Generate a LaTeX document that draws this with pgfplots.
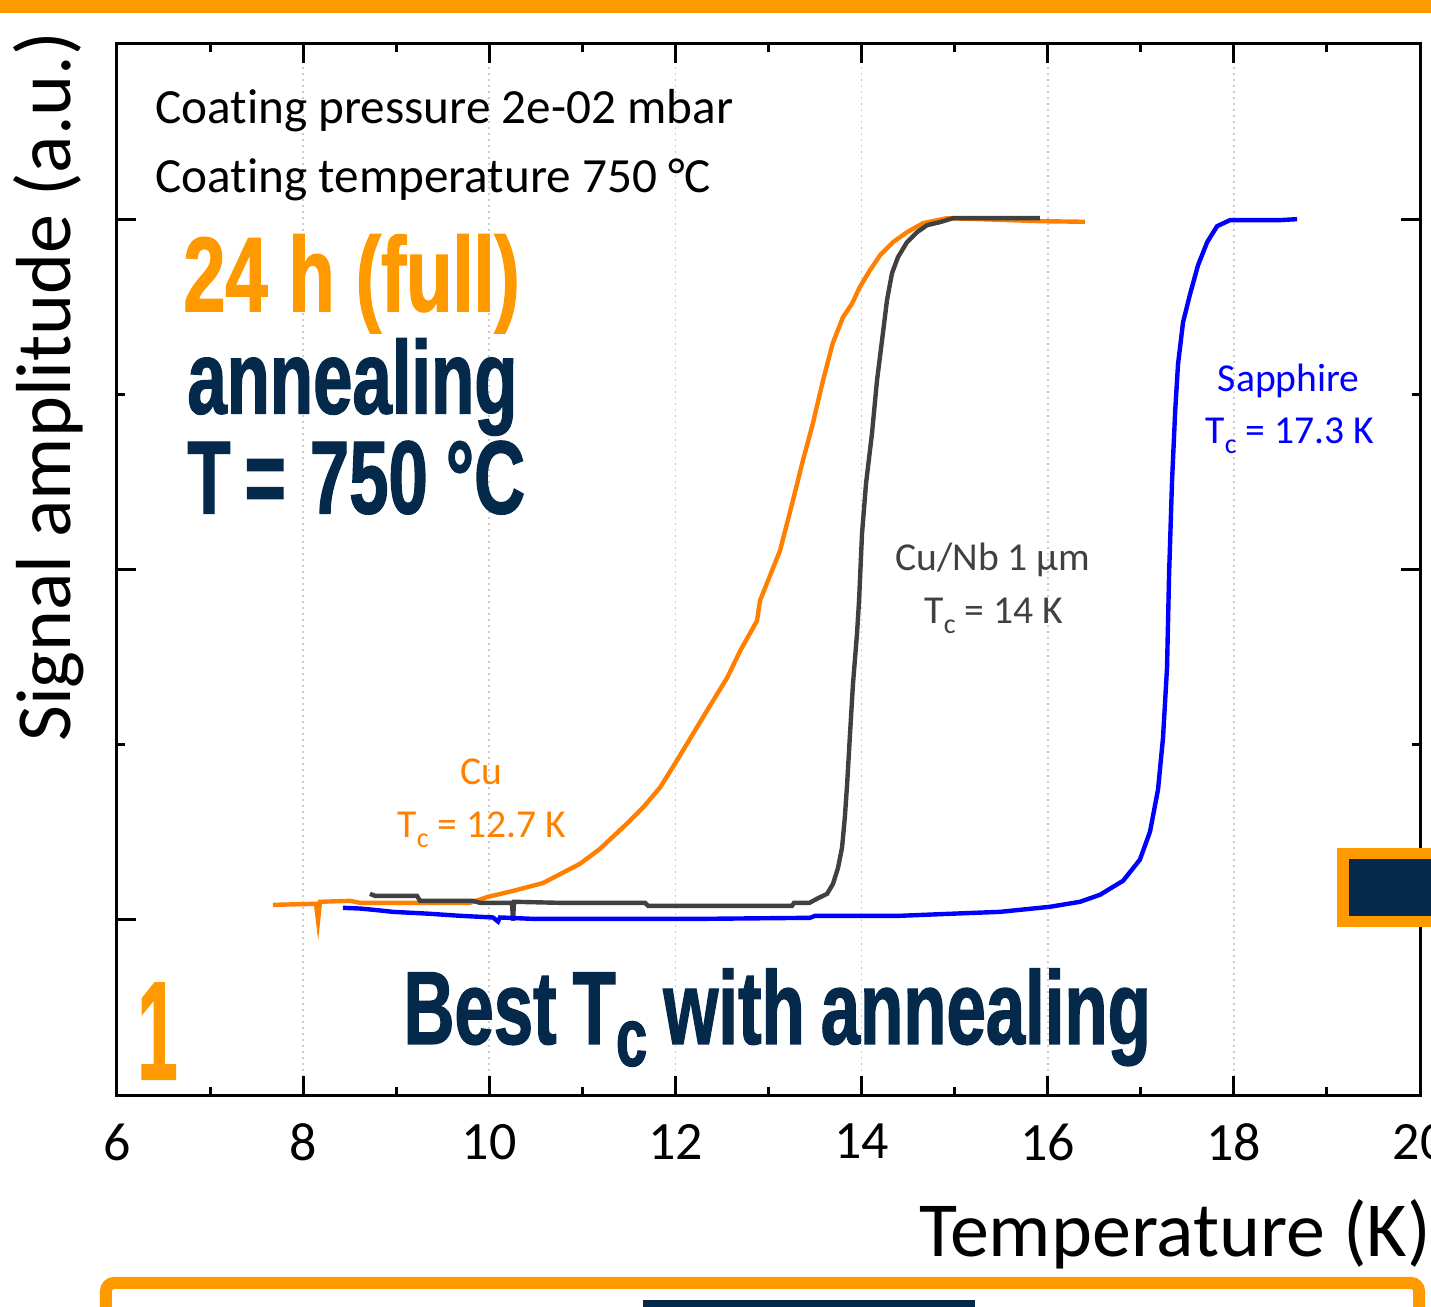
\documentclass[border=0pt]{standalone}
\usepackage{fontspec}
\setmainfont{Carlito}[Ligatures=NoCommon]
\newfontfamily\cond[FakeStretch=0.68, FakeBold=1.2]{Liberation Sans}
\usepackage{graphicx}
\usepackage{pgfplots}
\pgfplotsset{compat=1.18}

\definecolor{accent}{HTML}{FF9900}
\definecolor{cuorange}{HTML}{FF8000}
\definecolor{nbgray}{HTML}{404040}
\definecolor{navy}{HTML}{04294A}

% small lowered subscript c for the T_c labels
\newcommand\tc{T\raisebox{-5pt}{\fontsize{14}{14}\selectfont c}}

\begin{document}
\begin{tikzpicture}
\path[use as bounding box] (-58.5pt,-106pt) rectangle (657pt,547.5pt);
\clip (-58.5pt,-106pt) rectangle (657pt,547.5pt);
\begin{axis}[
  scale only axis,
  width=651.5pt, height=525.5pt,
  xmin=6, xmax=20, ymin=-0.2, ymax=1.0,
  xtick={6,8,...,20}, minor xtick={7,9,...,19},
  ytick={0,0.4,0.8}, minor ytick={0.2,0.6},
  yticklabels={},
  tick align=inside,
  major tick length=9.5pt, minor tick length=4pt,
  tick style={black, line width=1.5pt},
  axis line style={line width=1.5pt},
  xmajorgrids,
  major grid style={gray!40, line width=0.8pt, dash pattern=on 1pt off 2pt},
  /pgf/number format/assume math mode=true,
  xticklabel style={font=\fontsize{27}{27}\selectfont, yshift=-11pt},
  xlabel={Temperature (K)},
  ylabel={Signal amplitude (a.u.)},
  xlabel style={at={(rel axis cs:1.0137,-0.154)}, anchor=base east,
    font=\fontsize{39}{39}\selectfont},
  ylabel style={at={(rel axis cs:-0.020,0.674)}, rotate=0, anchor=south,
    font=\fontsize{39}{39}\selectfont},
]
% Cu substrate
\addplot[cuorange, line width=2.2pt] coordinates {
(7.676,0.0171)(8.138,0.0183)(8.16,-0.001)(8.181,0.0206)(8.503,0.0217)(8.611,0.0194)
(9.793,0.0194)(9.976,0.026)(10.255,0.033)(10.577,0.042)(10.975,0.064)(11.19,0.0811)
(11.48,0.110)(11.65,0.128)(11.834,0.151)(12.017,0.182)(12.19,0.2126)(12.34,0.239)
(12.557,0.2766)(12.697,0.3074)(12.80,0.3269)(12.877,0.3417)(12.909,0.3646)
(13.124,0.4217)(13.263,0.4789)(13.37,0.5246)(13.477,0.5669)(13.586,0.616)(13.69,0.6583)
(13.80,0.688)(13.90,0.704)(13.98,0.7223)(14.09,0.7417)(14.20,0.7589)(14.338,0.7737)
(14.488,0.7851)(14.66,0.7954)(14.918,0.8011)(15.27,0.800)(15.917,0.7977)(16.40,0.797)
};
% Cu/Nb 1 um
\addplot[nbgray, line width=2.2pt] coordinates {
(8.718,0.0297)(8.772,0.0274)(9.223,0.0274)(9.256,0.0217)(9.825,0.0217)(9.90,0.0194)
(10.244,0.0194)(10.255,-0.001)(10.266,0.0206)(10.76,0.0194)(11.673,0.0194)(11.705,0.016)
(13.253,0.016)(13.274,0.0194)(13.44,0.0194)(13.52,0.024)(13.63,0.0297)(13.693,0.0411)
(13.747,0.0594)(13.79,0.0823)(13.82,0.1166)(13.845,0.1554)(13.876,0.2126)(13.908,0.2697)
(13.951,0.3269)(13.973,0.3646)(14.005,0.4411)(14.048,0.4983)(14.112,0.5554)(14.166,0.616)
(14.22,0.6617)(14.273,0.7074)(14.327,0.7383)(14.391,0.7566)(14.488,0.7737)(14.596,0.7851)
(14.703,0.7931)(14.843,0.7966)(14.983,0.8011)(15.917,0.8011)
};
% Sapphire
\addplot[blue, line width=2.2pt] coordinates {
(8.428,0.0137)(8.611,0.0129)(8.79,0.0111)(8.966,0.0091)(9.331,0.0071)(9.685,0.0046)
(10.04,0.0027)(10.094,-0.002)(10.115,0.0027)(10.47,0.0011)(10.975,0.0011)(12.264,0.0011)
(13.446,0.0023)(13.50,0.0046)(14.413,0.0046)(14.95,0.0069)(15.487,0.0091)(16.025,0.0149)
(16.347,0.0206)(16.562,0.0286)(16.81,0.0446)(16.99,0.0686)(17.099,0.1006)(17.185,0.1486)
(17.239,0.208)(17.282,0.288)(17.304,0.3943)(17.336,0.5017)(17.37,0.5817)(17.40,0.6343)
(17.454,0.6823)(17.529,0.7143)(17.615,0.7474)(17.713,0.7737)(17.82,0.792)(17.959,0.7989)
(18.496,0.7989)(18.679,0.800)
};
% annotations
\node[anchor=base west, inner sep=0pt, font=\fontsize{24.6}{24.6}\selectfont] at (axis cs:6.408,0.9097) {Coating pressure 2e-02 mbar};
\node[anchor=base west, inner sep=0pt, font=\fontsize{24.6}{24.6}\selectfont] at (axis cs:6.408,0.831) {Coating temperature 750 °C};
\node[anchor=base west, inner sep=0pt, text=accent, font=\cond\bfseries\fontsize{53}{53}\selectfont] at (axis cs:6.709,0.695) {\scalebox{1.05}[1]{24 h (full)}};
\node[anchor=base west, inner sep=0pt, text=navy, font=\cond\bfseries\fontsize{52}{52}\selectfont] at (axis cs:6.752,0.578) {annealing};
\node[anchor=base west, inner sep=0pt, text=navy, font=\cond\bfseries\fontsize{52}{52}\selectfont] at (axis cs:6.752,0.464) {T\hspace{7pt}=\hspace{12pt}750\hspace{9pt}°C};
\node[anchor=base west, inner sep=0pt, text=accent, font=\cond\bfseries\fontsize{68}{68}\selectfont] at (axis cs:6.215,-0.182) {\scalebox{0.78}[1.03]{1}};
\node[anchor=base west, inner sep=0pt, text=navy, font=\cond\bfseries\fontsize{52}{52}\selectfont] at (axis cs:9.073,-0.1417) {Best\hspace{8pt}T\raisebox{-11pt}{\scalebox{0.8}{c}}\hspace{8pt}with\hspace{8pt}annealing};
\node[anchor=base, text=cuorange, font=\fontsize{19.8}{19.8}\selectfont] at (axis cs:9.911,0.155) {Cu};
\node[anchor=base, text=cuorange, font=\fontsize{19.8}{19.8}\selectfont] at (axis cs:9.92,0.0937) {\tc{} = 12.7 K};
\node[anchor=base, text=nbgray, font=\fontsize{19.8}{19.8}\selectfont] at (axis cs:15.41,0.399) {Cu/Nb 1 μm};
\node[anchor=base, text=nbgray, font=\fontsize{19.8}{19.8}\selectfont] at (axis cs:15.42,0.338) {\tc{} = 14 K};
\node[anchor=base, text=blue, font=\fontsize{19.8}{19.8}\selectfont] at (axis cs:18.59,0.603) {Sapphire};
\node[anchor=base, text=blue, font=\fontsize{19.8}{19.8}\selectfont] at (axis cs:18.60,0.544) {\tc{} = 17.3 K};
\end{axis}
% slide decorations around the chart
\fill[accent] (-60pt,541pt) rectangle (660pt,550pt);
\draw[accent, line width=6pt, rounded corners=4pt] (-5.5pt,-140pt) -- (-5.5pt,-94pt) -- (651pt,-94pt) -- (651pt,-140pt);
\fill[navy] (263pt,-102.5pt) rectangle (429pt,-110pt);
\fill[accent] (610pt,84pt) rectangle (670pt,123.6pt);
\fill[navy] (616pt,89.5pt) rectangle (670pt,118pt);
\end{tikzpicture}
\end{document}
